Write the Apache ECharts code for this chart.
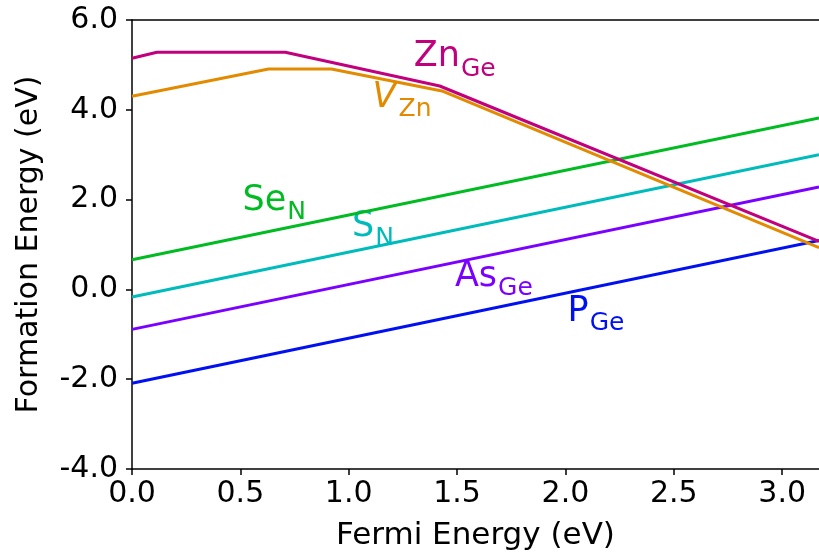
<!DOCTYPE html>
<html>
<head>
<meta charset="utf-8">
<script src="https://cdn.jsdelivr.net/npm/echarts@6/dist/echarts.min.js"></script>
<style>html,body{margin:0;padding:0;background:#fff}#c{width:819px;height:559px}</style>
</head>
<body>
<div id="c"></div>
<script>
var xTicks = [0, 0.5, 1.0, 1.5, 2.0, 2.5, 3.0];
var yTicks = [-4, -2, 0, 2, 4, 6];
var xMax = 3.17;

var znGe = [[0, 5.15], [0.115, 5.28], [0.707, 5.28], [1.42, 4.53], [3.17, 1.07]];
var vZn = [[0, 4.30], [0.63, 4.91], [0.92, 4.91], [1.43, 4.42], [3.17, 0.93]];
var seN = [[0, 0.66], [3.17, 3.82]];
var sN = [[0, -0.17], [3.17, 3.0]];
var asGe = [[0, -0.89], [3.17, 2.28]];
var pGe = [[0, -2.09], [3.17, 1.09]];

var seriesNames = ['ZnGe', 'VZn', 'SeN', 'SN', 'AsGe', 'PGe'];
var seriesData = [znGe, vZn, seN, sN, asGe, pGe];
var colors = ['#c0007c', '#e38b00', '#00bb22', '#00bbbb', '#7a00ff', '#0010f0'];
var labelMain = ['Zn', 'V', 'Se', 'S', 'As', 'P'];
var labelSub = ['Ge', 'Zn', 'N', 'N', 'Ge', 'Ge'];
var labelAt = [[1.30, 5.17], [1.11, 4.27], [0.51, 1.97], [1.015, 1.39], [1.49, 0.28], [2.01, -0.50]];

var FONT = 'DejaVu Sans';
var MAIN_SIZE = 35, SUB_SIZE = 25, SUB_DROP = 12;

var ctx = document.createElement('canvas').getContext('2d');
function textWidth(t, italic) {
  ctx.font = (italic ? 'italic ' : '') + MAIN_SIZE + 'px "' + FONT + '"';
  return ctx.measureText(t).width;
}

var series = seriesData.map(function (d, i) {
  var italic = (i === 1);
  var w = textWidth(labelMain[i], italic) + (italic ? 1 : 0);
  return {
    name: seriesNames[i],
    type: 'line',
    data: d,
    symbol: 'none',
    silent: true,
    lineStyle: {color: colors[i], width: 3},
    z: 10 - i,
    markPoint: {
      symbol: 'circle',
      symbolSize: 0,
      silent: true,
      data: [{
        coord: labelAt[i],
        label: {
          show: true, position: [0, 0], align: 'left', verticalAlign: 'middle',
          formatter: labelMain[i], fontFamily: FONT, fontSize: MAIN_SIZE,
          fontStyle: italic ? 'italic' : 'normal', color: colors[i]
        }
      }, {
        coord: labelAt[i],
        label: {
          show: true, position: [0, 0], offset: [w + 1, SUB_DROP], align: 'left', verticalAlign: 'middle',
          formatter: labelSub[i], fontFamily: FONT, fontSize: SUB_SIZE, color: colors[i]
        }
      }]
    }
  };
});

var chart = echarts.init(document.getElementById('c'), null, {renderer: 'canvas'});
chart.setOption({
  animation: false,
  backgroundColor: '#fff',
  grid: {left: 132, top: 20, right: 0, bottom: 90, containLabel: false},
  xAxis: [{
    type: 'value', min: 0, max: xMax,
    name: 'Fermi Energy (eV)', nameLocation: 'middle', nameGap: 51,
    nameTextStyle: {fontFamily: FONT, fontSize: 31, color: '#000'},
    axisLine: {show: true, onZero: false, lineStyle: {color: '#000', width: 1.5}},
    axisTick: {show: true, length: 6, customValues: xTicks, lineStyle: {color: '#000', width: 1.5}},
    axisLabel: {customValues: xTicks, margin: 10, fontFamily: FONT, fontSize: 30, color: '#000',
      formatter: function (v) { return v.toFixed(1); }},
    splitLine: {show: false}
  }, {
    type: 'value', min: 0, max: xMax, position: 'top',
    axisLine: {show: true, onZero: false, lineStyle: {color: '#000', width: 1.5}},
    axisTick: {show: false}, axisLabel: {show: false}, splitLine: {show: false}
  }],
  yAxis: {
    type: 'value', min: -4, max: 6, interval: 2,
    name: 'Formation Energy (eV)', nameLocation: 'middle', nameGap: 88,
    nameTextStyle: {fontFamily: FONT, fontSize: 30, color: '#000'},
    axisLine: {show: true, onZero: false, lineStyle: {color: '#000', width: 1.5}},
    axisTick: {show: true, length: 6, lineStyle: {color: '#000', width: 1.5}},
    axisLabel: {margin: 14, fontFamily: FONT, fontSize: 30, color: '#000',
      formatter: function (v) { return v.toFixed(1); }},
    splitLine: {show: false}
  },
  series: series
});
</script>
</body>
</html>
